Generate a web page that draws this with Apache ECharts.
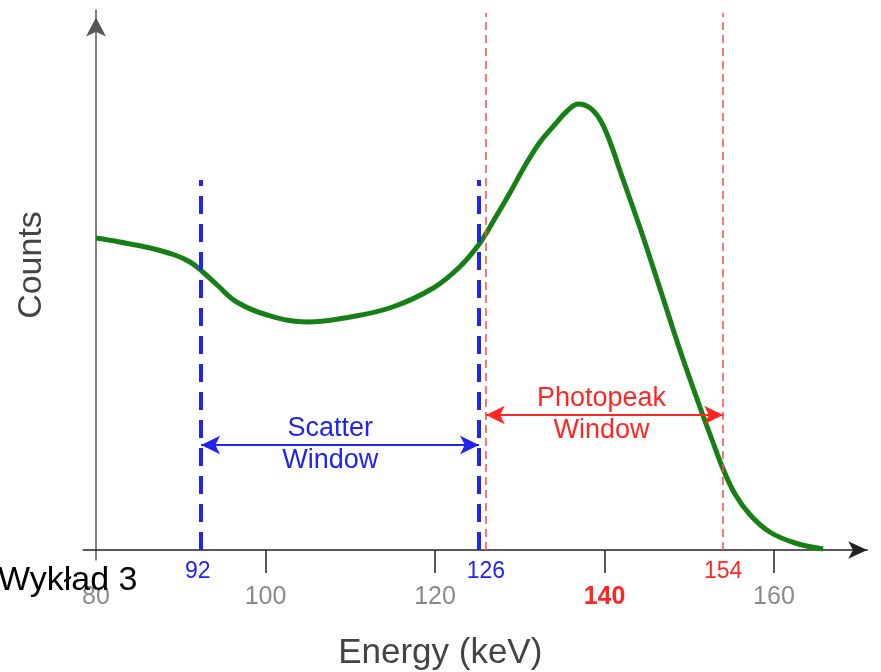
<!DOCTYPE html>
<html><head><meta charset="utf-8">
<script src="https://cdn.jsdelivr.net/npm/echarts@6/dist/echarts.min.js"></script>
<style>html,body{margin:0;padding:0;background:#fff}#c{width:881px;height:672px}</style>
</head><body><div id="c"></div>
<script>
// ---- data ----
const energy = [80.0, 82.8, 86.4, 89.3, 91.1, 92.6, 94.3, 96.6, 100.2, 104.9, 110.0, 115.0, 119.8, 122.9, 125.3, 127.1, 128.9, 130.6, 132.4, 134.2, 135.6, 136.9, 138.3, 139.5, 140.7, 141.8, 144.2, 146.6, 148.9, 151.3, 152.7, 153.9, 155.4, 157.2, 159.5, 162.5, 165.8];
const counts = [62.4, 61.6, 60.4, 59.0, 57.6, 55.6, 53.0, 49.6, 47.0, 45.6, 46.6, 48.6, 52.4, 56.6, 61.4, 66.4, 71.6, 76.8, 81.6, 85.2, 87.8, 89.2, 88.4, 86.0, 81.4, 76.0, 64.4, 52.0, 40.0, 28.4, 22.0, 16.6, 11.2, 7.0, 3.6, 1.4, 0.2];
const majorTicks = [80, 100, 120, 140, 160];
const highlightTick = 140;
const windowTicks = [92, 126, 154];
const windowTickGroup = ['s', 's', 'p'];
const scatterWindow = [92.4, 125.2];
const photopeakWindow = [126, 154];
const scatterLineTop = 74;
const photopeakLineTop = 107.4;
const scatterArrowY = 21;
const photopeakArrowY = 27;
const scatterLabelX = 107.7;
const photopeakLabelX = 139.7;
const scatterText = ['Scatter', 'Window'];
const photopeakText = ['Photopeak', 'Window'];
const xMin = 78.5, xMax = 171, yMin = -2, yMax = 108;

const BLUE = '#2222f2', RED = '#ff2626', GREEN = '#168016';
const FONT = '"Liberation Sans", Arial, Helvetica, sans-serif';

const chart = echarts.init(document.getElementById('c'), null, {renderer: 'canvas'});

function vline(x, top, style) {
  return [{coord: [x, 0], symbol: 'none', lineStyle: style}, {coord: [x, top], symbol: 'none'}];
}
function harrow(x0, x1, y, color) {
  return [{coord: [x0, y], symbol: 'arrow', symbolSize: [14, 19], lineStyle: {color: color, width: 2, type: 'solid'}},
          {coord: [x1, y], symbol: 'arrow', symbolSize: [14, 19]}];
}
const blueStyle = {color: BLUE, width: 4, type: [18, 10]};
const redStyle = {color: '#ff4a4a', width: 1.5, type: [8, 5]};

chart.setOption({
  animation: false,
  backgroundColor: '#fff',
  grid: {left: 83.3, right: 13.8, top: 10, bottom: 112, outerBoundsMode: 'none', containLabel: false},
  xAxis: [{
    type: 'value', min: xMin, max: xMax, position: 'bottom',
    name: 'Energy (keV)', nameLocation: 'middle', nameGap: 76,
    nameTextStyle: {fontSize: 35, color: '#444', fontFamily: FONT, padding: [0, 70, 0, 0]},
    axisLine: {show: true, onZero: true, symbol: ['none', 'arrow'], symbolSize: [13, 19], lineStyle: {color: '#222', width: 1.5}},
    axisTick: {show: true, customValues: majorTicks.slice(1), length: 23, lineStyle: {color: '#222', width: 1.5}},
    axisLabel: {
      customValues: majorTicks, margin: 25, fontFamily: FONT,
      formatter: v => v === highlightTick ? '{h|' + v + '}' : '{n|' + v + '}',
      rich: {
        n: {fontSize: 25, color: '#8a8a8a', fontFamily: FONT},
        h: {fontSize: 25, color: RED, fontWeight: 'bold', fontFamily: FONT}
      }
    },
    splitLine: {show: false}
  }, {
    type: 'value', min: xMin, max: xMax, position: 'bottom',
    axisLine: {show: false, onZero: false},
    axisTick: {show: false},
    axisLabel: {
      customValues: windowTicks, margin: 0, fontFamily: FONT,
      formatter: v => '{' + windowTickGroup[windowTicks.indexOf(v)] + '|' + v + '}',
      rich: {
        s: {fontSize: 23, color: BLUE, fontFamily: FONT},
        p: {fontSize: 23, color: RED, fontFamily: FONT}
      }
    },
    splitLine: {show: false}
  }],
  yAxis: {
    type: 'value', min: yMin, max: yMax, offset: -12.7,
    name: 'Counts', nameLocation: 'middle', nameRotate: 90, nameGap: 47,
    nameTextStyle: {fontSize: 34, color: '#444', fontFamily: FONT, padding: [0, 0, 0, 40]},
    axisLine: {show: true, onZero: false, symbol: ['none', 'arrow'], symbolSize: [15, 19], symbolOffset: [0, -7.5], lineStyle: {color: '#555', width: 1.5}},
    axisTick: {show: false},
    axisLabel: {show: false},
    splitLine: {show: false}
  },
  series: [{
    type: 'line', xAxisIndex: 0,
    data: energy.map((e, i) => [e, counts[i]]),
    showSymbol: false, smooth: 0.4, clip: false,
    lineStyle: {color: GREEN, width: 5},
    z: 3,
    markLine: {
      silent: true, animation: false,
      label: {show: false},
      symbol: ['none', 'none'],
      data: [
        vline(scatterWindow[0], scatterLineTop, blueStyle),
        vline(scatterWindow[1], scatterLineTop, blueStyle),
        vline(photopeakWindow[0], photopeakLineTop, redStyle),
        vline(photopeakWindow[1], photopeakLineTop, redStyle),
        harrow(scatterWindow[0], scatterWindow[1], scatterArrowY, BLUE),
        harrow(photopeakWindow[0], photopeakWindow[1], photopeakArrowY, RED)
      ]
    }
  }, {
    type: 'scatter', xAxisIndex: 0,
    data: [
      {value: [scatterLabelX, scatterArrowY], label: {formatter: scatterText.join('\n'), color: BLUE}},
      {value: [photopeakLabelX, photopeakArrowY], label: {formatter: photopeakText.join('\n'), color: RED}}
    ],
    symbolSize: 1, itemStyle: {color: 'rgba(0,0,0,0)', opacity: 1}, silent: true, z: 5,
    emphasis: {disabled: true},
    label: {show: true, position: [0, 0], fontSize: 27, lineHeight: 32, fontFamily: FONT, align: 'center', verticalAlign: 'middle', textBorderWidth: 0, opacity: 1}
  }],
  graphic: [{
    type: 'text', left: -2, top: 564, z: 100,
    style: {text: 'Wykład 3', font: '34px ' + FONT, fill: '#000'}
  }]
});
</script>
</body></html>
